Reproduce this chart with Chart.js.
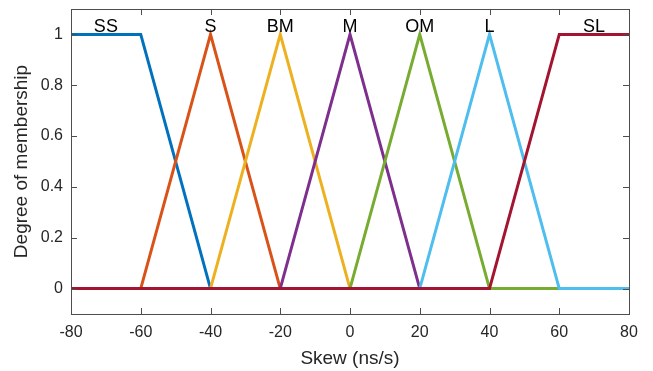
<!DOCTYPE html>
<html><head><meta charset="utf-8">
<script src="https://cdn.jsdelivr.net/npm/chart.js@4/dist/chart.umd.min.js"></script>
<style>html,body{margin:0;padding:0;background:#fff}#wrap{width:653px;height:371px}</style>
</head><body><div id="wrap"><canvas id="c" width="653" height="371"></canvas></div>
<script>
const xTicks = [-80,-60,-40,-20,0,20,40,60,80];
const yTicks = [0,0.2,0.4,0.6,0.8,1];
const setNames = ['SS','S','BM','M','OM','L','SL'];
const setColors = ['#0072BD','#D95319','#EDB120','#7E2F8E','#77AC30','#4DBEEE','#A2142F'];
const ssX = [-80,-60,-40,80];   const ssY = [1,1,0,0];
const sX  = [-80,-60,-40,-20,80]; const sY = [0,0,1,0,0];
const bmX = [-80,-40,-20,0,80];   const bmY = [0,0,1,0,0];
const mX  = [-80,-20,0,20,80];    const mY  = [0,0,1,0,0];
const omX = [-80,0,20,40,80];     const omY = [0,0,1,0,0];
const lX  = [-80,20,40,60,80];    const lY  = [0,0,1,0,0];
const slX = [-80,40,60,80];       const slY = [0,0,1,1];
const labelX = [-70,-40,-20,0,20,40,70];
const labelY = 1.01;

const xs=[ssX,sX,bmX,mX,omX,lX,slX], ys=[ssY,sY,bmY,mY,omY,lY,slY];
const datasets = setNames.map((n,i)=>({
  label:n,
  data: xs[i].map((x,j)=>({x:x,y:ys[i][j]})),
  borderColor:setColors[i], backgroundColor:setColors[i],
  borderWidth:3, pointRadius:0, fill:false, tension:0,
  order: setNames.length - i
}));

const FONT='"Liberation Sans", Arial, sans-serif';
const frame = {
  id:'frame',
  afterDraw(chart){
    const {ctx, chartArea:a, scales:{x,y}} = chart;
    ctx.save();
    ctx.strokeStyle='#4d4d4d'; ctx.lineWidth=1;
    ctx.strokeRect(Math.round(a.left)+0.5, Math.round(a.top)+0.5, Math.round(a.right-a.left), Math.round(a.bottom-a.top));
    ctx.beginPath();
    xTicks.forEach(v=>{const p=Math.round(x.getPixelForValue(v))+0.5;
      ctx.moveTo(p,a.bottom); ctx.lineTo(p,a.bottom-6);
      ctx.moveTo(p,a.top); ctx.lineTo(p,a.top+6);});
    yTicks.forEach(v=>{const p=Math.round(y.getPixelForValue(v))+0.5;
      ctx.moveTo(a.left,p); ctx.lineTo(a.left+6,p);
      ctx.moveTo(a.right,p); ctx.lineTo(a.right-6,p);});
    ctx.stroke();
    ctx.fillStyle='#000'; ctx.font='18px '+FONT; ctx.textAlign='center'; ctx.textBaseline='alphabetic';
    setNames.forEach((n,i)=>{
      ctx.fillText(n, x.getPixelForValue(labelX[i]), y.getPixelForValue(labelY));
    });
    ctx.restore();
  }
};

new Chart(document.getElementById('c'), {
  type:'line',
  data:{datasets},
  options:{
    responsive:false, animation:false, devicePixelRatio:1,
    layout:{padding:{top:9,right:24,left:0,bottom:0}},
    plugins:{legend:{display:false}, tooltip:{enabled:false}},
    scales:{
      x:{type:'linear', min:-80, max:80,
        afterBuildTicks(s){s.ticks = xTicks.map(v=>({value:v}));},
        afterFit(s){s.height=57; s.paddingLeft=0; s.paddingRight=0;},
        grid:{display:false, drawTicks:false}, border:{display:false},
        ticks:{padding:9, color:'#262626', font:{size:16, family:FONT}, maxRotation:0,
          callback:(v)=>String(v)},
        title:{display:true, text:'Skew (ns/s)', color:'#262626', font:{size:19, family:FONT}, padding:{top:0,bottom:1}}
      },
      y:{type:'linear', min:-0.1, max:1.1,
        afterBuildTicks(s){s.ticks = yTicks.map(v=>({value:v}));},
        afterFit(s){s.width=71; s.paddingTop=0; s.paddingBottom=0;},
        grid:{display:false, drawTicks:false}, border:{display:false},
        ticks:{padding:8, color:'#262626', font:{size:16, family:FONT},
          callback:(v)=>String(Math.round(v*10)/10)},
        title:{display:true, text:'Degree of membership', color:'#262626', font:{size:19, family:FONT}, padding:{top:10,bottom:0}}
      }
    }
  },
  plugins:[frame]
});
</script></body></html>
